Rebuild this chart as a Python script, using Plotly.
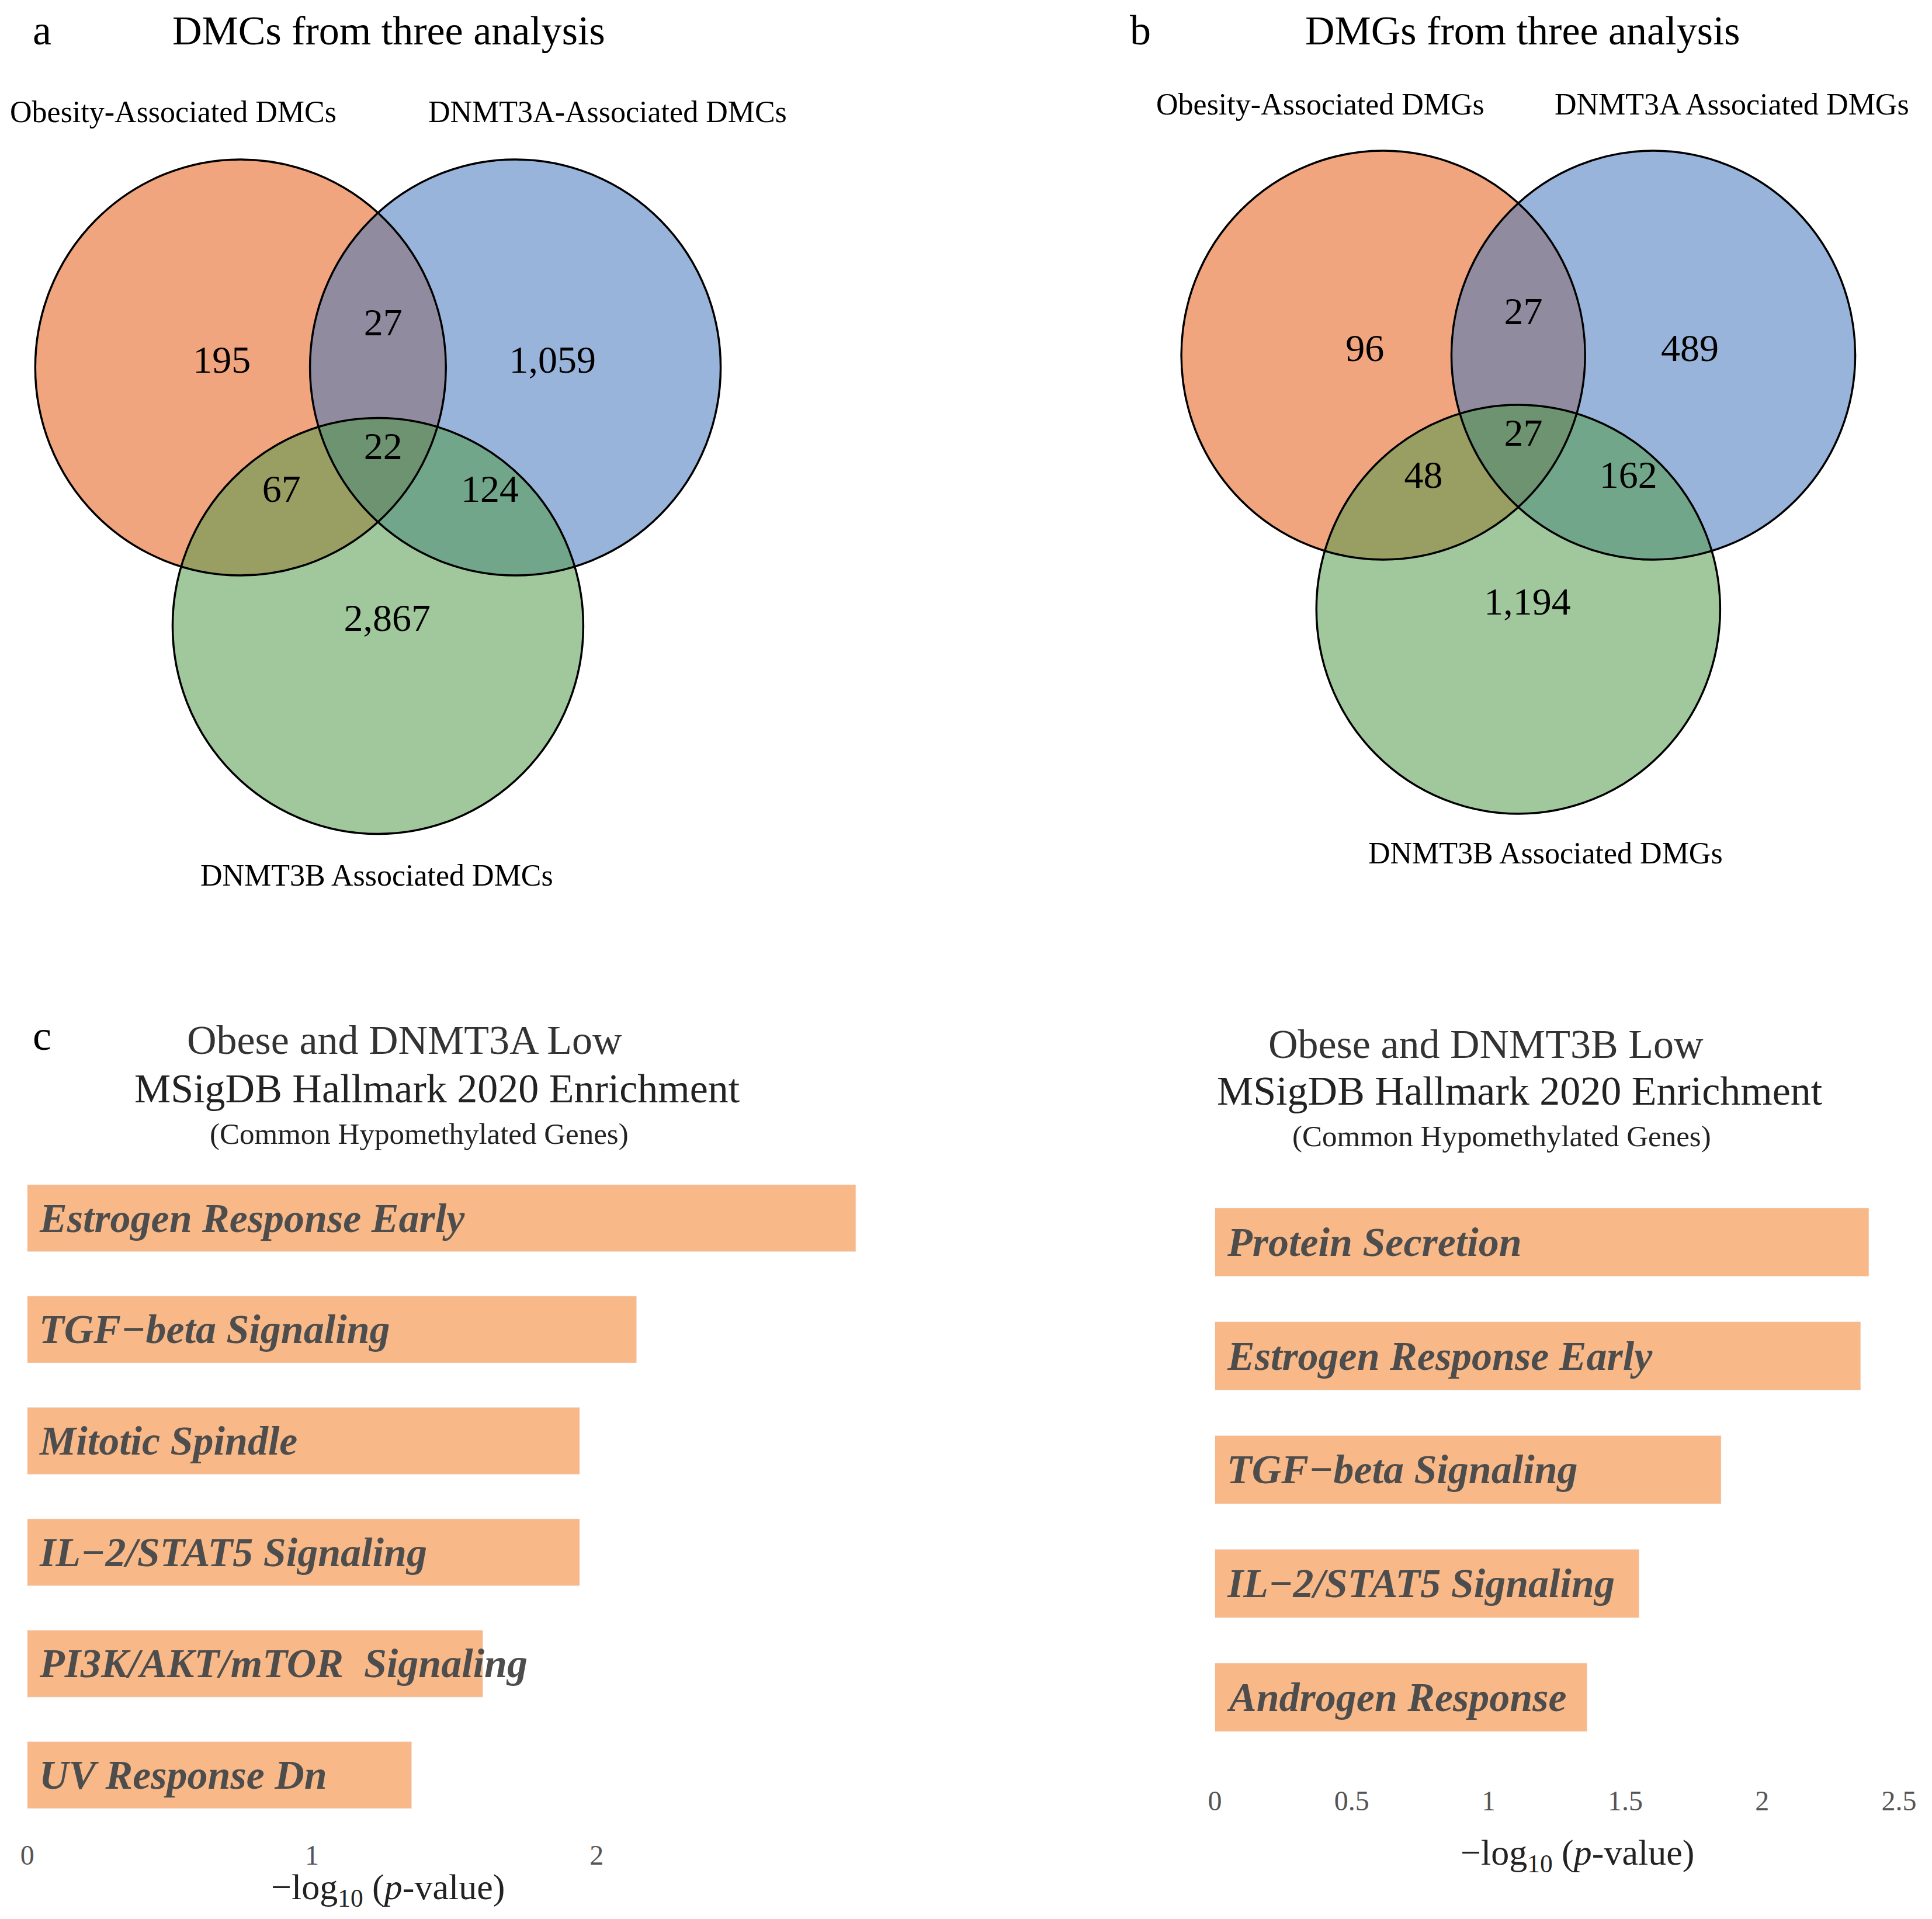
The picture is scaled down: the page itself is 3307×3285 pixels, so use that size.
import plotly.graph_objects as go

W, H = 3307, 3285
SERIF = "Liberation Serif"

# ---- data ----
dmc_sets = ["Obesity-Associated DMCs", "DNMT3A-Associated DMCs", "DNMT3B Associated DMCs"]
# order: obesity only, 3A only, 3B only, obesity&3A, obesity&3B, 3A&3B, all three
dmc_counts = [195, 1059, 2867, 27, 67, 124, 22]

dmg_sets = ["Obesity-Associated DMGs", "DNMT3A Associated DMGs", "DNMT3B Associated DMGs"]
dmg_counts = [96, 489, 1194, 27, 48, 162, 27]

dnmt3a_terms = ["Estrogen Response Early", "TGF\u2212beta Signaling", "Mitotic Spindle",
                "IL\u22122/STAT5 Signaling", "PI3K/AKT/mTOR\u00a0 Signaling", "UV Response Dn"]
dnmt3a_logp = [2.91, 2.14, 1.94, 1.94, 1.60, 1.35]

dnmt3b_terms = ["Protein Secretion", "Estrogen Response Early", "TGF\u2212beta Signaling",
                "IL\u22122/STAT5 Signaling", "Androgen Response"]
dnmt3b_logp = [2.39, 2.36, 1.85, 1.55, 1.36]

# ---- venn geometry (units of circle radius) ----
centers = [(-0.669, 0.0), (0.669, 0.0), (0.0, -1.243)]
region_pos = [(-0.76, 0.02), (0.85, 0.02), (0.045, -1.22), (0.025, 0.20),
              (-0.47, -0.60), (0.545, -0.60), (0.025, -0.395)]
alpha = 0.55
fills = [(228, 91, 20), (68, 119, 188), (82, 155, 75)]


def venn_ranges(xdom, ydom, cx, cy, r):
    x0, x1 = xdom[0] * W, xdom[1] * W
    ytop, ybot = (1 - ydom[1]) * H, (1 - ydom[0]) * H
    return [(x0 - cx) / r, (x1 - cx) / r], [(cy - ybot) / r, (cy - ytop) / r]


fig = go.Figure()
shapes = []
annotations = []

venns = [
    dict(counts=dmc_counts, xa="x", ya="y", xdom=[0, 0.45], ydom=[0.5, 1], cx=635, cy=621, r=356),
    dict(counts=dmg_counts, xa="x2", ya="y2", xdom=[0.55, 1], ydom=[0.5, 1], cx=2612, cy=600, r=350),
]

layout_axes = {}
for i, v in enumerate(venns):
    xr, yr = venn_ranges(v["xdom"], v["ydom"], v["cx"], v["cy"], v["r"])
    sfx = "" if i == 0 else str(i + 1)
    layout_axes["xaxis" + sfx] = dict(domain=v["xdom"], range=xr, visible=False, anchor=v["ya"])
    layout_axes["yaxis" + sfx] = dict(domain=v["ydom"], range=yr, visible=False, anchor=v["xa"])
    for (cx, cy), c in zip(centers, fills):
        shapes.append(dict(type="circle", xref=v["xa"], yref=v["ya"], layer="below",
                           x0=cx - 1, x1=cx + 1, y0=cy - 1, y1=cy + 1,
                           fillcolor="rgba(%d,%d,%d,%.2f)" % (c + (alpha,)),
                           line=dict(width=0)))
    for cx, cy in centers:
        shapes.append(dict(type="circle", xref=v["xa"], yref=v["ya"], layer="below",
                           x0=cx - 1, x1=cx + 1, y0=cy - 1, y1=cy + 1,
                           fillcolor="rgba(0,0,0,0)", line=dict(color="black", width=3.5)))
    fig.add_trace(go.Scatter(
        x=[p[0] for p in region_pos], y=[p[1] for p in region_pos],
        text=[f"{n:,}" for n in v["counts"]], mode="text",
        textfont=dict(family=SERIF, size=66, color="black"),
        xaxis=v["xa"], yaxis=v["ya"], hoverinfo="skip", showlegend=False))

# ---- bar charts ----
bar_color = "#F8B887"
fig.add_trace(go.Bar(x=dnmt3a_logp, y=dnmt3a_terms, orientation="h", width=0.6,
                     marker=dict(color=bar_color), xaxis="x3", yaxis="y3",
                     hoverinfo="skip", showlegend=False))
fig.add_trace(go.Bar(x=dnmt3b_logp, y=dnmt3b_terms, orientation="h", width=0.6,
                     marker=dict(color=bar_color), xaxis="x4", yaxis="y4",
                     hoverinfo="skip", showlegend=False))

tickfont = dict(family=SERIF, size=48, color="#555555")
layout_axes["xaxis3"] = dict(domain=[0.00816, 0.4485], range=[0, 2.95], anchor="y3",
                             tickvals=[0, 1, 2], showgrid=False, zeroline=False, showline=False,
                             ticks="", tickfont=tickfont, ticklabelstandoff=9)
layout_axes["yaxis3"] = dict(domain=[0.0484, 0.3967], anchor="x3", type="category",
                             categoryorder="array", categoryarray=dnmt3a_terms,
                             range=[len(dnmt3a_terms) - 0.5, -0.5],
                             showticklabels=False, showgrid=False, zeroline=False, ticks="")
layout_axes["xaxis4"] = dict(domain=[0.6308, 0.9894], range=[0, 2.5], anchor="y4",
                             dtick=0.5, showgrid=False, zeroline=False, showline=False,
                             ticks="", tickfont=tickfont, ticklabelstandoff=47)
layout_axes["yaxis4"] = dict(domain=[0.0883, 0.3848], anchor="x4", type="category",
                             categoryorder="array", categoryarray=dnmt3b_terms,
                             range=[len(dnmt3b_terms) - 0.5, -0.5],
                             showticklabels=False, showgrid=False, zeroline=False, ticks="")

label_font = dict(family=SERIF, size=70, color="#4d4d4d")
for terms, xa, ya in [(dnmt3a_terms, "x3", "y3"), (dnmt3b_terms, "x4", "y4")]:
    for t in terms:
        annotations.append(dict(x=0, y=t, xref=xa, yref=ya, xanchor="left", yanchor="middle",
                                xshift=18, text=f"<b><i>{t}</i></b>", showarrow=False,
                                font=label_font))


def ptext(x, y, text, size, color="black"):
    annotations.append(dict(x=x, y=y, xref="paper", yref="paper", xanchor="center",
                            yanchor="middle", text=text, showarrow=False,
                            font=dict(family=SERIF, size=size, color=color)))


# panel a
ptext(0.0159, 0.9865, "a", 72)
ptext(0.1977, 0.9865, "DMCs from three analysis", 70)
ptext(0.0848, 0.9442, dmc_sets[0], 52)
ptext(0.3125, 0.9442, dmc_sets[1], 52)
ptext(0.1913, 0.5462, dmc_sets[2], 52)
# panel b
ptext(0.5918, 0.9865, "b", 72)
ptext(0.7921, 0.9865, "DMGs from three analysis", 70)
ptext(0.6862, 0.9481, dmg_sets[0], 52)
ptext(0.9018, 0.9481, dmg_sets[1], 52)
ptext(0.8042, 0.5577, dmg_sets[2], 52)
# panel c
ptext(0.0159, 0.4628, "c", 72)
ptext(0.2060, 0.4603, "Obese and DNMT3A Low", 70, "#333333")
ptext(0.2232, 0.4353, "MSigDB Hallmark 2020 Enrichment", 70, "#222222")
ptext(0.2136, 0.4115, "(Common Hypomethylated Genes)", 51, "#222222")
ptext(0.7730, 0.4583, "Obese and DNMT3B Low", 70, "#333333")
ptext(0.7908, 0.4340, "MSigDB Hallmark 2020 Enrichment", 70, "#222222")
ptext(0.7812, 0.4103, "(Common Hypomethylated Genes)", 51, "#222222")
axis_title = "\u2212log<sub>10</sub> (<i>p</i>-value)"
ptext(0.1971, 0.0179, axis_title, 62, "#222222")
ptext(0.8208, 0.0359, axis_title, 62, "#222222")

fig.update_layout(
    width=W, height=H, autosize=False,
    margin=dict(l=0, r=0, t=0, b=0),
    paper_bgcolor="white", plot_bgcolor="white",
    shapes=shapes, annotations=annotations,
    bargap=0.4,
    **layout_axes,
)

fig.write_html("out.html", config={"responsive": False})
